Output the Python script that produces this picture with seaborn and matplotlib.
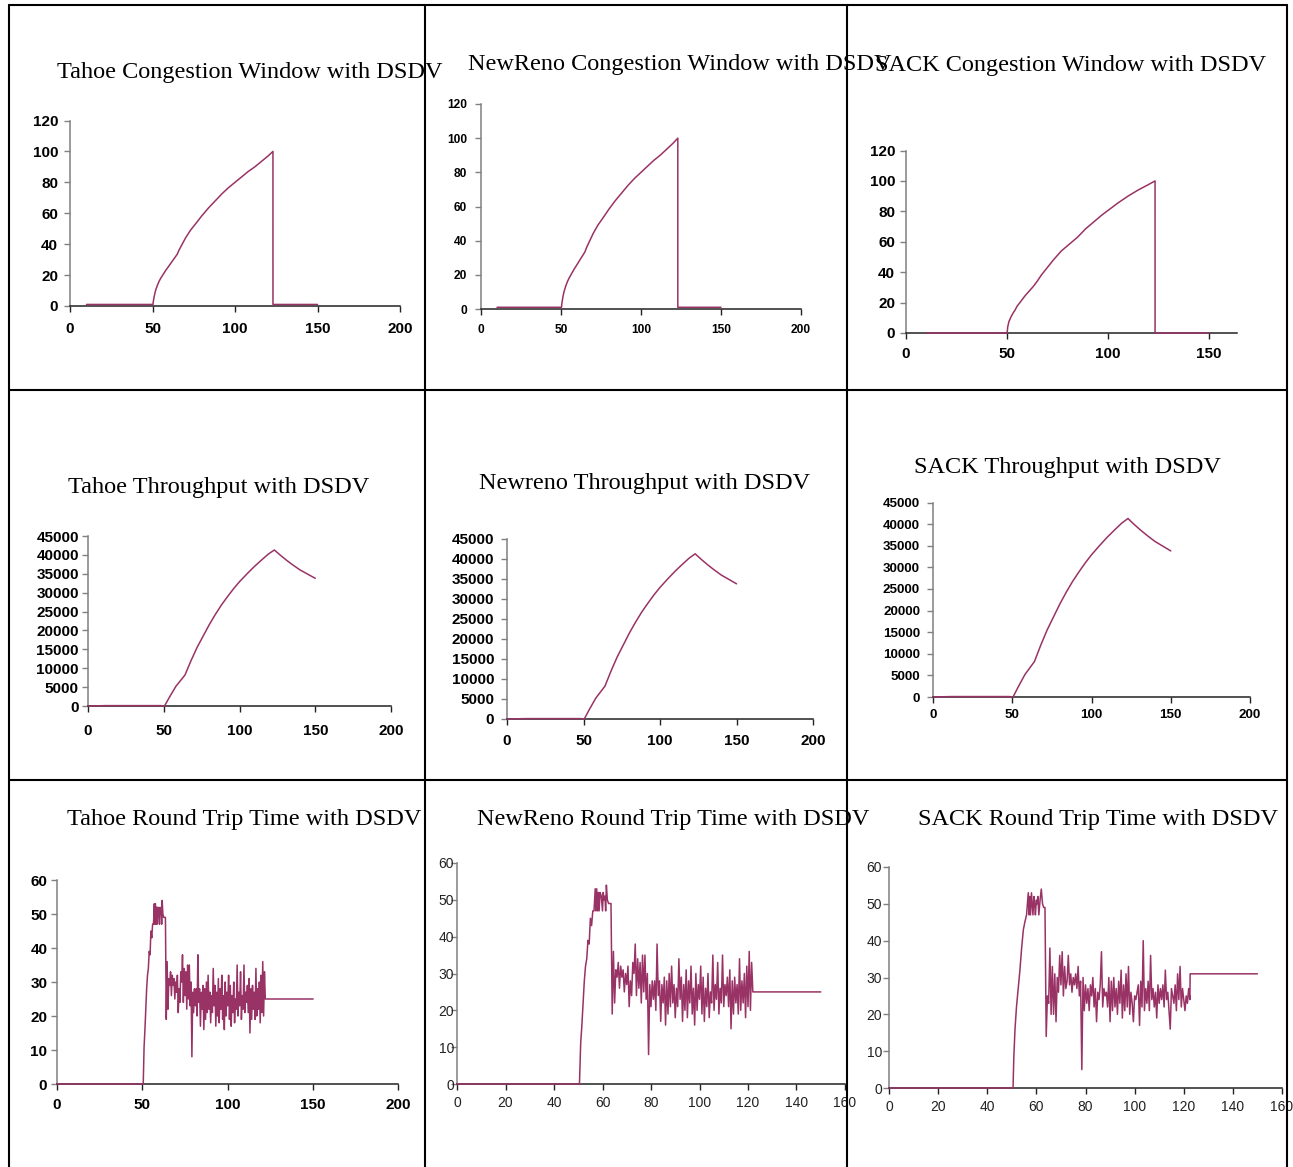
import matplotlib
matplotlib.use('Agg')
import matplotlib.pyplot as plt
from matplotlib.lines import Line2D
import pandas as pd
import seaborn as sns

# ---- data ----
# congestion window, Tahoe and NewReno (same trace)
cwnd_t = [10, 50.3, 50.5, 51, 51.5, 52, 53, 54, 55, 56.5, 58, 60, 62, 64, 65, 66,
          68, 70, 73, 76, 80, 84, 88, 92, 96, 100, 104, 108, 112, 116, 120, 123,
          123.01, 150]
cwnd_v = [1, 1, 3, 6, 8.5, 10.5, 13.5, 16, 18, 20.5, 23, 26, 29, 32, 33.5, 36,
          40, 44, 49, 53, 58.5, 63.5, 68, 72.5, 76.5, 80, 83.5, 87, 90, 93.5, 97, 100,
          1, 1]

# congestion window, SACK
sack_cwnd_t = [10, 50.1, 50.4, 51, 52, 53, 54, 55, 57, 59, 61, 63, 65, 67, 70, 73,
               77, 81, 85, 89, 93, 97, 101, 105, 110, 115, 120, 123.4, 123.41, 150]
sack_cwnd_v = [0, 0, 4, 7.5, 10.5, 13, 15, 17.5, 21, 24.5, 27.5, 30.5, 34, 38, 43, 48,
               54, 58.5, 63, 68.5, 73, 77.5, 81.5, 85.5, 90, 94, 97.5, 100, 0, 0]

# throughput (all three look the same)
thr_t = [0, 12, 48, 50.5, 54, 58, 64, 68, 72, 76, 80, 84, 88, 92, 96, 100, 105,
         110, 115, 119, 123, 127, 131, 135, 140, 145, 150]
thr_v = [0, 100, 100, 0, 2500, 5200, 8200, 12000, 15500, 18500, 21500, 24200, 26700,
         28900, 31000, 32900, 35000, 37000, 38800, 40200, 41300, 39900, 38600, 37400,
         36000, 34900, 33800]

# round trip time, Tahoe and NewReno (same trace)
rtt_ramp_t = [0, 50.5, 51, 51.5, 52, 52.5, 53, 53.5, 54, 54.5,
              55, 55.5, 56, 56.5, 57, 57.3, 57.6, 58, 58.3, 58.6,
              59, 59.5, 60, 60.3, 60.6, 61, 61.3, 61.6, 62, 62.5,
              63, 63.5]
rtt_ramp_v = [0, 0, 11, 16, 22, 28, 32, 34, 39, 38,
              45, 43, 47, 47, 53, 47, 53, 47, 52, 47,
              52, 51, 47, 52, 50, 51, 47, 54, 50, 49,
              49, 49]
rtt_noise_t = [64.0, 64.5, 65.0, 65.5, 66.0, 66.5, 67.0, 67.5, 68.0, 68.5,
               69.0, 69.5, 70.0, 70.5, 71.0, 71.5, 72.0, 72.5, 73.0, 73.5,
               74.0, 74.5, 75.0, 75.5, 76.0, 76.5, 77.0, 77.5, 78.0, 78.5,
               79.0, 79.5, 80.0, 80.5, 81.0, 81.5, 82.0, 82.5, 83.0, 83.5,
               84.0, 84.5, 85.0, 85.5, 86.0, 86.5, 87.0, 87.5, 88.0, 88.5,
               89.0, 89.5, 90.0, 90.5, 91.0, 91.5, 92.0, 92.5, 93.0, 93.5,
               94.0, 94.5, 95.0, 95.5, 96.0, 96.5, 97.0, 97.5, 98.0, 98.5,
               99.0, 99.5, 100.0, 100.5, 101.0, 101.5, 102.0, 102.5, 103.0, 103.5,
               104.0, 104.5, 105.0, 105.5, 106.0, 106.5, 107.0, 107.5, 108.0, 108.5,
               109.0, 109.5, 110.0, 110.5, 111.0, 111.5, 112.0, 112.5, 113.0, 113.5,
               114.0, 114.5, 115.0, 115.5, 116.0, 116.5, 117.0, 117.5, 118.0, 118.5,
               119.0, 119.5, 120.0, 120.5, 121.0, 121.5, 122.0]
rtt_noise_v = [19, 36, 22, 31, 29, 33, 26, 32, 29, 31,
               25, 30, 27, 32, 21, 28, 24, 33, 30, 38,
               24, 34, 26, 33, 22, 35, 25, 35, 23, 30,
               8, 27, 21, 28, 23, 28, 20, 38, 24, 28,
               17, 27, 22, 29, 16, 28, 19, 30, 21, 32,
               22, 27, 18, 26, 21, 34, 23, 29, 17, 27,
               20, 31, 18, 28, 22, 32, 19, 26, 16, 30,
               20, 27, 23, 32, 19, 29, 17, 26, 21, 30,
               18, 25, 22, 35, 20, 27, 23, 33, 19, 26,
               22, 35, 21, 27, 24, 29, 21, 31, 15, 28,
               19, 29, 22, 27, 19, 34, 20, 28, 22, 30,
               18, 32, 21, 36, 20, 33, 25]
rtt_tail_t = [150]
rtt_tail_v = [25]

# round trip time, SACK
sack_ramp_t = [0, 50.5, 50.8, 51.3, 51.9, 52.6, 53.3, 54, 54.7, 55.3,
               56, 56.7, 57, 57.3, 57.6, 58, 58.3, 58.6, 59, 59.3,
               59.6, 60, 60.3, 60.6, 61, 61.5, 62, 62.5, 63, 63.5]
sack_ramp_v = [0, 0, 8, 16, 22, 27, 32, 38, 43, 45,
               47, 53, 47, 52, 47, 53, 50, 47, 52, 50,
               47, 51, 50, 52, 47, 51, 54, 50, 49, 49]
sack_noise_t = rtt_noise_t + [122.5]
sack_noise_v = [14, 25, 23, 38, 20, 33, 20, 31, 18, 30,
                26, 36, 28, 37, 25, 33, 27, 29, 36, 28,
                31, 26, 30, 28, 31, 27, 33, 25, 29, 5,
                30, 21, 28, 23, 27, 21, 28, 25, 30, 22,
                27, 18, 26, 24, 28, 37, 22, 27, 25, 26,
                22, 30, 18, 29, 21, 30, 22, 27, 20, 29,
                23, 32, 19, 28, 21, 31, 22, 33, 20, 26,
                23, 18, 25, 24, 26, 28, 17, 29, 22, 40,
                21, 27, 23, 29, 21, 36, 24, 27, 22, 26,
                19, 28, 23, 27, 24, 28, 22, 32, 24, 26,
                21, 16, 27, 25, 23, 28, 21, 31, 24, 33,
                22, 27, 24, 21, 25, 23, 27, 24]
sack_tail_t = [122.6, 150]
sack_tail_v = [31, 31]

rtt_t = rtt_ramp_t + rtt_noise_t + rtt_tail_t
rtt_v = rtt_ramp_v + rtt_noise_v + rtt_tail_v
sack_rtt_t = sack_ramp_t + sack_noise_t + sack_tail_t
sack_rtt_v = sack_ramp_v + sack_noise_v + sack_tail_v

titles = [
    'Tahoe Congestion Window with DSDV', 'NewReno Congestion Window with DSDV',
    'SACK Congestion Window with DSDV',
    'Tahoe Throughput with DSDV', 'Newreno Throughput with DSDV', 'SACK Throughput with DSDV',
    'Tahoe Round Trip Time with DSDV', 'NewReno Round Trip Time with DSDV',
    'SACK Round Trip Time with DSDV',
]

cwnd_ticks = [0, 20, 40, 60, 80, 100, 120]
thr_ticks = [0, 5000, 10000, 15000, 20000, 25000, 30000, 35000, 40000, 45000]
rtt_ticks = [0, 10, 20, 30, 40, 50, 60]
x200_ticks = [0, 50, 100, 150, 200]
x150_ticks = [0, 50, 100, 150]
x160_ticks = [0, 20, 40, 60, 80, 100, 120, 140, 160]

# ---- layout (pixels in a 1293x1167 canvas) ----
W, H = 1293, 1167
LINE_COLOR = '#993366'

panels = [
    dict(t=cwnd_t, v=cwnd_v, box=(70, 400, 120.5, 306), xlim=200, xt=x200_ticks,
         ylim=120, yt=cwnd_ticks, size=11, bold=True, xpad=7.8, ypad=4.6, title=(250, 72.5)),
    dict(t=cwnd_t, v=cwnd_v, box=(481, 801, 104, 309), xlim=200, xt=x200_ticks,
         ylim=120, yt=cwnd_ticks, size=8.6, bold=True, xpad=6.8, ypad=6, title=(680, 64.5)),
    dict(t=sack_cwnd_t, v=sack_cwnd_v, box=(906, 1237, 150.5, 333), xlim=164, xt=x150_ticks,
         ylim=120, yt=cwnd_ticks, size=11, bold=True, xpad=6.4, ypad=3.9, title=(1071, 65.5)),
    dict(t=thr_t, v=thr_v, box=(88, 391, 536, 706), xlim=200, xt=x200_ticks,
         ylim=45000, yt=thr_ticks, size=11, bold=True, xpad=9.2, ypad=2.5, title=(219, 487.5)),
    dict(t=thr_t, v=thr_v, box=(507, 813, 539, 719), xlim=200, xt=x200_ticks,
         ylim=45000, yt=thr_ticks, size=11, bold=True, xpad=7, ypad=5.3, title=(645, 483.5)),
    dict(t=thr_t, v=thr_v, box=(933, 1250, 502.5, 697), xlim=200, xt=x200_ticks,
         ylim=45000, yt=thr_ticks, size=9.6, bold=True, xpad=4.8, ypad=5.3, title=(1067, 467.5)),
    dict(t=rtt_t, v=rtt_v, box=(57, 398.5, 880, 1084), xlim=200, xt=x200_ticks,
         ylim=60, yt=rtt_ticks, size=11, bold=True, xpad=6.2, ypad=3, title=(244, 819.5)),
    dict(t=rtt_t, v=rtt_v, box=(457, 845, 863, 1084), xlim=160, xt=x160_ticks,
         ylim=60, yt=rtt_ticks, size=10, bold=False, xpad=4.6, ypad=-2, title=(673, 819.5)),
    dict(t=sack_rtt_t, v=sack_rtt_v, box=(889, 1282, 867, 1088), xlim=160, xt=x160_ticks,
         ylim=60, yt=rtt_ticks, size=10, bold=False, xpad=4.6, ypad=1, title=(1098, 819.5)),
]

sns.set_style('white')
plt.rcParams['font.family'] = ['Liberation Sans', 'DejaVu Sans']

fig = plt.figure(figsize=(W / 100, H / 100), dpi=100)
fig.patch.set_facecolor('white')

for p, title in zip(panels, titles):
    x0, x1, ytop, ybot = p['box']
    ax = fig.add_axes([x0 / W, 1 - ybot / H, (x1 - x0) / W, (ybot - ytop) / H])
    df = pd.DataFrame({'t': p['t'], 'v': p['v']})
    sns.lineplot(data=df, x='t', y='v', ax=ax, color=LINE_COLOR, linewidth=1.1,
                 estimator=None, sort=False, zorder=3)
    for ln in ax.lines:
        ln.set_clip_on(False)
    ax.set_xlim(0, p['xlim'])
    ax.set_ylim(0, p['ylim'])
    ax.set_xticks(p['xt'])
    ax.set_yticks(p['yt'])
    ax.set_xlabel('')
    ax.set_ylabel('')
    ax.set_facecolor('none')
    for side in ['top', 'right']:
        ax.spines[side].set_visible(False)
    ax.spines['left'].set_color('#808080')
    ax.spines['bottom'].set_color('#222222')
    ax.spines['left'].set_linewidth(1.1)
    ax.spines['bottom'].set_linewidth(1.1)
    lab_color = 'black' if p['bold'] else '#222222'
    ax.tick_params(axis='x', direction='out', length=4, width=1, color='#222222',
                   labelsize=p['size'], pad=p['xpad'], labelcolor=lab_color, bottom=True)
    ax.tick_params(axis='y', direction='out', length=4, width=1, color='#808080',
                   labelsize=p['size'], pad=p['ypad'], labelcolor=lab_color, left=True)
    if p['bold']:
        for lab in ax.get_xticklabels() + ax.get_yticklabels():
            lab.set_fontweight('bold')
    tx, ty = p['title']
    fig.text(tx / W, 1 - ty / H, title, ha='center', va='center', fontsize=17.5,
             family=['Liberation Serif', 'DejaVu Serif'], color='black', zorder=5)

# panel frame lines
def frame_line(xs, ys):
    fig.add_artist(Line2D([x / W for x in xs], [1 - y / H for y in ys],
                          transform=fig.transFigure, color='black', linewidth=1.5))

frame_line([9, 1287], [5, 5])
frame_line([9, 1287], [390, 390])
frame_line([9, 1287], [780, 780])
for xv in [9, 425, 847, 1287]:
    frame_line([xv, xv], [5, 1167])

fig.savefig('out.png', dpi=100, facecolor='white')
